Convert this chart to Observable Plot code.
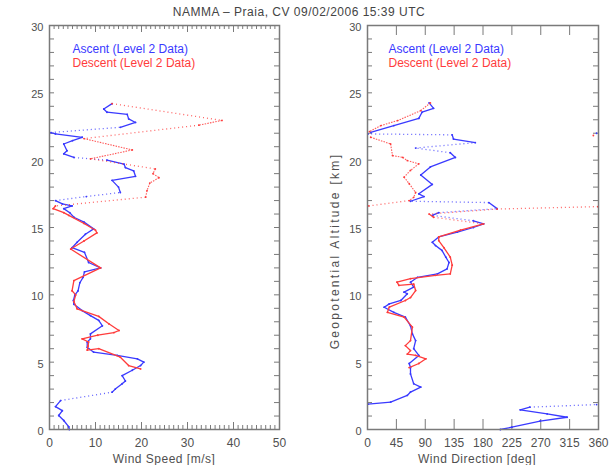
<!DOCTYPE html>
<html><head><meta charset="utf-8">
<script src="https://cdn.jsdelivr.net/npm/d3@7"></script>
<script src="https://cdn.jsdelivr.net/npm/@observablehq/plot@0.6"></script>
<style>
body{margin:0;background:#fff;width:613px;height:465px;overflow:hidden;position:relative;font-family:"Liberation Sans",Arial,sans-serif;color:#505050;}
.lbl{position:absolute;white-space:nowrap;font-size:12px;line-height:12px;color:#505050;}
#title{top:6px;left:0;width:598px;text-align:center;letter-spacing:0.5px;color:#444;}
#xl1{left:64px;width:200px;top:453px;text-align:center;letter-spacing:0.5px;}
#xl2{left:377px;width:200px;top:453px;text-align:center;letter-spacing:0.5px;}
#yl{left:335px;top:251px;transform:translate(-50%,-50%) rotate(-90deg);letter-spacing:2.3px;}
#left{position:absolute;left:0;top:0;}
#right{position:absolute;left:300px;top:0;}
</style></head><body>
<div id="left"></div><div id="right"></div>
<div id="title" class="lbl"></div>
<div id="xl1" class="lbl"></div>
<div id="xl2" class="lbl"></div>
<div id="yl" class="lbl"></div>
<script>
// ---------- data ----------
const titleText = "NAMMA – Praia, CV 09/02/2006 15:39 UTC";
const seriesNames = ["Ascent (Level 2 Data)", "Descent (Level 2 Data)"];
const xLabels = ["Wind Speed [m/s]", "Wind Direction [deg]"];
const yLabel = "Geopotential Altitude [km]";

// Wind speed, ascent (altitude km, speed m/s)
const ascSpdAlt = [0.0,0.2,0.67,1.04,1.4,1.7,2.15,2.77,3.0,3.4,3.6,4.0,4.4,4.75,5.0,5.25,5.5,5.74,6.1,6.5,6.73,7.1,7.7,8.1,8.46,8.83,9.3,9.58,9.97,10.3,10.9,11.3,11.7,12.0,12.4,13.16,13.5,13.9,14.5,14.9,15.4,15.76,16.1,16.4,16.6,16.75,17.0,17.3,17.6,18.0,18.5,18.8,19.2,19.45,19.7,20.0,20.2,20.47,20.7,21.2,21.45,21.7,21.95,22.05,22.44,22.8,23.07,23.4,23.56,23.8,24.2];
const ascSpd    = [4.3,4.2,3.1,2.0,2.8,1.3,2.4,13.6,14.3,15.8,16.5,15.8,18.0,19.8,20.5,19.1,14.7,9.6,8.2,8.2,8.9,8.9,11.5,10.7,8.9,7.1,5.3,5.2,5.5,6.2,6.6,7.3,7.6,11.1,8.5,7.6,4.9,6.0,7.8,9.6,7.5,5.3,4.4,3.1,4.9,2.8,1.3,8.0,15.4,15.0,13.6,18.7,18.3,16.5,16.2,12.5,5.3,3.1,3.8,3.1,5.0,7.1,1.3,0.3,15.4,18.7,17.2,16.9,12.5,11.8,13.6];

// Wind speed, descent (ordered top to bottom)
const descSpdAlt = [24.2,22.95,22.6,21.6,20.76,20.1,19.35,19.0,18.7,18.3,17.74,17.25,16.6,16.4,16.1,15.9,15.3,14.8,14.6,14.0,13.4,12.0,11.06,10.3,10.0,9.5,8.96,8.4,7.85,7.35,7.2,7.0,6.73,6.5,6.2,5.9,6.0,5.37,4.75,4.5];
const descSpd    = [13.6,37.5,32.5,7.5,18.0,8.9,23.0,22.5,23.8,21.8,21.2,20.9,1.3,0.8,3.1,4.2,7.5,10.0,10.3,7.5,4.6,11.1,5.3,4.9,5.7,5.3,6.0,10.7,12.9,15.1,14.0,10.5,7.1,8.5,8.4,8.2,10.7,15.4,17.2,19.8];

// Wind direction, ascent (altitude km, direction deg)
const ascDirAlt = [0.0,0.17,0.62,0.91,1.16,1.46,1.66,1.85,1.88,2.03,2.53,2.78,3.15,3.4,4.13,4.6,4.9,5.5,6.0,6.6,7.1,7.7,8.34,8.7,9.08,9.33,9.58,10.08,10.2,10.57,10.94,11.3,11.56,11.93,12.4,12.8,13.3,13.66,13.9,14.3,14.65,15.0,15.27,15.5,15.9,16.1,16.4,16.85,16.95,17.3,17.5,18.2,18.9,19.5,20.2,20.55,20.9,21.3,21.57,21.88,21.95,22.0,22.07,22.57,23.1,23.56,23.85,24.25];
const ascDir    = [207,225,269,311,280,238,253,357,1,36,62,67,83,72,67,67,65,80,72,75,70,67,59,41,26,34,52,62,57,72,67,78,109,124,127,122,116,106,101,111,140,165,181,165,101,111,202,189,67,88,80,101,83,98,137,129,75,168,134,132,1,357,5,41,80,85,103,96];

// Wind direction, descent (ordered top to bottom)
const descDirAlt = [24.25,23.68,22.94,22.57,22.12,21.83,21.7,21.2,20.34,20.2,19.97,19.73,19.24,18.74,18.25,17.6,17.24,17.0,16.6,16.55,16.37,16.0,15.76,15.27,14.8,14.3,14.03,13.5,12.8,12.2,11.56,11.45,11.2,10.94,10.7,10.8,10.32,9.8,9.58,9.08,8.7,8.34,7.6,6.6,6.23,5.86,5.6,5.5,5.25,4.9,4.6];
const descDir    = [98,83,47,21,3,352,5,36,39,55,62,80,67,57,65,75,72,65,2,359,202,96,103,181,145,111,111,119,129,132,129,106,67,46,49,72,75,67,59,34,31,57,70,67,59,67,62,75,91,80,65];

const altTicks = [0,5,10,15,20,25,30];
const spdTicks = [0,10,20,30,40,50];
const dirTicks = [0,45,90,135,180,225,270,315,360];

// ---------- drawing ----------
const BLUE = "#3a3aff", RED = "#ff3c3c", GRAY = "#7a7a7a", TXT = "#505050";
const H = 465, MT = 25, MB = 36;

function segments(alts, vals, pxPerVal, pxPerKm, isDesc, wrap) {
  const out = [];
  for (let i = 1; i < alts.length; i++) {
    const dv = vals[i] - vals[i-1], da = alts[i] - alts[i-1];
    if (wrap && Math.abs(dv) > 180) continue;
    const dx = Math.abs(dv * pxPerVal);
    const ratio = dx / Math.max(Math.abs(da * pxPerKm), 0.01);
    const kind = (ratio > 5 && dx > 30) ? "dot" : (isDesc && Math.min(alts[i], alts[i-1]) >= 17 ? "dash" : "solid");
    out.push({x1: vals[i-1], y1: alts[i-1], x2: vals[i], y2: alts[i], kind});
  }
  return out;
}

function segMarks(segs, alts, vals, color) {
  const pts = alts.map((a, i) => ({a, v: vals[i]}));
  return [
    Plot.link(segs.filter(d => d.kind === "solid"), {x1:"x1", y1:"y1", x2:"x2", y2:"y2", stroke: color, strokeWidth: 1.3, strokeLinecap: "round"}),
    Plot.link(segs.filter(d => d.kind === "dash"), {x1:"x1", y1:"y1", x2:"x2", y2:"y2", stroke: color, strokeWidth: 1.1, strokeDasharray: "1.5,1.2", strokeOpacity: 0.85}),
    Plot.link(segs.filter(d => d.kind === "dot"), {x1:"x1", y1:"y1", x2:"x2", y2:"y2", stroke: color, strokeWidth: 1.3, strokeDasharray: "1,3", strokeOpacity: 0.8}),
    Plot.dot(pts, {x: "v", y: "a", r: 0.9, fill: color, stroke: null})
  ];
}

function panel(o) {
  const fw = o.width - o.ml - o.mr, fh = H - MT - MB;
  const span = o.xDomain[1] - o.xDomain[0];
  const pxV = fw / span, pxK = fh / 30;
  const a = segments(o.ascAlt, o.ascVal, pxV, pxK, false, o.wrap);
  const d = segments(o.descAlt, o.descVal, pxV, pxK, true, o.wrap);
  const yMinor = d3.range(0, 31, 1);
  const tickStyle = {stroke: GRAY, strokeWidth: 1};
  const marks = [
    Plot.axisX({ticks: o.xTicks, tickSize: 0, tickPadding: 9, tickFormat: v => String(v), label: null, fontSize: 12, fill: TXT}),
    Plot.axisY({ticks: altTicks, tickSize: 0, tickPadding: 6, dy: 2, tickFormat: v => String(v), label: null, fontSize: 11, fill: TXT}),
    Plot.tickX(o.xMinor, {x: v => v, insetTop: fh - 4, ...tickStyle}),
    Plot.tickX(o.xMinor, {x: v => v, insetBottom: fh - 4, ...tickStyle}),
    Plot.tickX(o.xTicks, {x: v => v, insetTop: fh - o.majorLen, ...tickStyle}),
    Plot.tickX(o.xTicks, {x: v => v, insetBottom: fh - o.majorLen, ...tickStyle}),
    Plot.tickY(yMinor, {y: v => v, insetRight: fw - 5, ...tickStyle}),
    Plot.tickY(yMinor, {y: v => v, insetLeft: fw - 5, ...tickStyle}),
    ...segMarks(a, o.ascAlt, o.ascVal, BLUE),
    ...segMarks(d, o.descAlt, o.descVal, RED),
    Plot.frame({stroke: GRAY, strokeWidth: 1.5}),
    Plot.text([seriesNames[0]], {text: t => t, frameAnchor: "top-left", dx: o.legDx, dy: 19, fill: BLUE, textAnchor: "start", fontSize: 12}),
    Plot.text([seriesNames[1]], {text: t => t, frameAnchor: "top-left", dx: o.legDx, dy: 33, fill: RED, textAnchor: "start", fontSize: 12})
  ];
  return Plot.plot({
    width: o.width, height: H,
    marginTop: MT, marginBottom: MB, marginLeft: o.ml, marginRight: o.mr,
    style: {fontFamily: "Liberation Sans, Arial, sans-serif", fontSize: "11px", color: TXT, background: "transparent"},
    x: {domain: o.xDomain},
    y: {domain: [0, 30]},
    marks
  });
}

const left = panel({
  width: 300, ml: 49, mr: 21, xDomain: [0, 50], xTicks: spdTicks,
  xMinor: d3.range(0, 51, 1).filter(v => v % 10 !== 0), majorLen: 7,
  legDx: 23, wrap: false,
  ascAlt: ascSpdAlt, ascVal: ascSpd, descAlt: descSpdAlt, descVal: descSpd
});
const right = panel({
  width: 313, ml: 67, mr: 15, xDomain: [0, 360], xTicks: dirTicks,
  xMinor: [], majorLen: 10,
  legDx: 21, wrap: true,
  ascAlt: ascDirAlt, ascVal: ascDir, descAlt: descDirAlt, descVal: descDir
});
document.getElementById("left").appendChild(left);
document.getElementById("right").appendChild(right);
document.getElementById("title").textContent = titleText;
document.getElementById("xl1").textContent = xLabels[0];
document.getElementById("xl2").textContent = xLabels[1];
document.getElementById("yl").textContent = yLabel;
</script>
</body></html>
